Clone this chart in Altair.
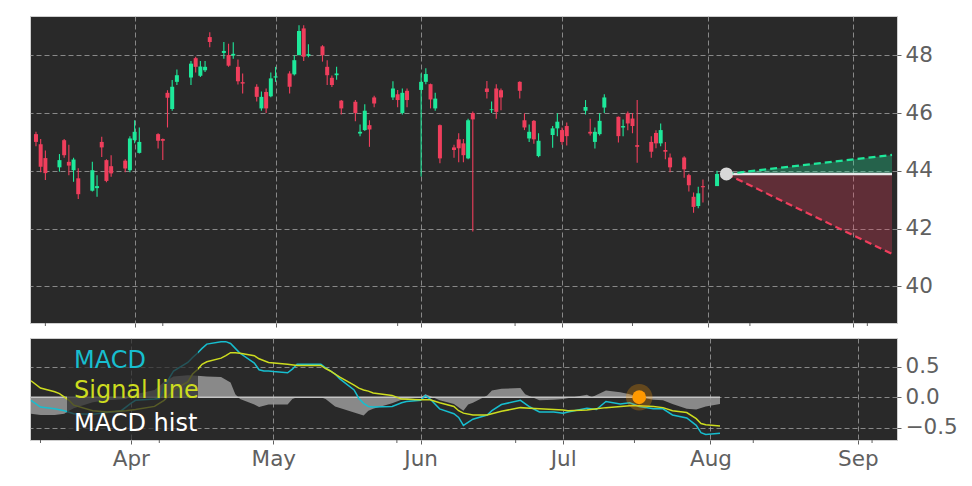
import altair as alt
import pandas as pd

GREEN = "#1ee89a"
RED = "#ef3e5c"
CYAN = "#17becf"
YELLOW = "#cddc1f"

# ---------------- candle data (2015) ----------------
dates = ["2015-03-11","2015-03-12","2015-03-13","2015-03-16","2015-03-17","2015-03-18","2015-03-19","2015-03-20",
         "2015-03-23","2015-03-24","2015-03-25","2015-03-26","2015-03-27","2015-03-30","2015-03-31","2015-04-01",
         "2015-04-02","2015-04-06","2015-04-07","2015-04-08","2015-04-09","2015-04-10","2015-04-13","2015-04-14",
         "2015-04-15","2015-04-16","2015-04-17","2015-04-20","2015-04-21","2015-04-22","2015-04-23","2015-04-24",
         "2015-04-27","2015-04-28","2015-04-29","2015-04-30","2015-05-01","2015-05-04","2015-05-05","2015-05-06",
         "2015-05-07","2015-05-08","2015-05-11","2015-05-12","2015-05-13","2015-05-14","2015-05-15","2015-05-18",
         "2015-05-19","2015-05-20","2015-05-21","2015-05-22","2015-05-26","2015-05-27","2015-05-28","2015-05-29",
         "2015-06-01","2015-06-02","2015-06-03","2015-06-04","2015-06-05","2015-06-08","2015-06-09","2015-06-10",
         "2015-06-11","2015-06-12","2015-06-15","2015-06-16","2015-06-17","2015-06-18","2015-06-22","2015-06-23",
         "2015-06-24","2015-06-25","2015-06-26","2015-06-29","2015-06-30","2015-07-01","2015-07-02","2015-07-06",
         "2015-07-07","2015-07-08","2015-07-09","2015-07-10","2015-07-13","2015-07-14","2015-07-15","2015-07-16",
         "2015-07-17","2015-07-20","2015-07-21","2015-07-22","2015-07-23","2015-07-24","2015-07-27","2015-07-28",
         "2015-07-29","2015-07-30","2015-07-31","2015-08-03"]
opens = [45.27,44.92,44.44,44.12,45.06,44.31,44.02,43.74,43.31,43.40,45.00,44.37,44.16,44.35,44.02,45.06,
         44.62,45.27,45.10,46.70,46.14,47.08,47.23,47.90,47.29,47.48,48.63,48.08,48.01,47.99,47.60,47.07,
         46.91,46.16,46.73,46.58,47.23,47.37,47.34,48.01,48.93,47.98,48.31,47.60,47.22,47.31,46.43,46.39,
         45.29,45.41,45.58,46.54,46.54,46.65,46.00,46.77,46.80,47.08,47.00,46.16,45.58,44.81,45.09,44.95,
         44.43,46.00,46.85,46.10,46.85,46.79,47.08,45.75,45.12,45.73,44.51,45.24,45.47,45.41,45.55,46.08,
         45.35,45.00,45.27,46.19,45.87,45.50,45.99,45.81,44.89,45.00,45.31,44.95,44.72,44.46,44.46,43.85,
         43.10,42.78,43.47,43.47]
highs = [45.35,45.10,44.70,44.58,45.10,44.90,44.45,44.09,44.31,43.85,45.18,44.40,44.54,44.40,45.20,45.75,
         45.50,45.30,45.12,46.79,47.14,47.51,47.80,47.95,47.80,47.80,48.80,48.46,48.40,48.45,47.85,47.37,
         47.00,46.75,46.85,47.40,47.60,47.45,48.00,49.04,49.04,48.38,48.35,47.83,47.30,47.60,46.45,46.45,
         45.60,46.30,45.75,46.60,47.10,46.80,46.85,46.85,47.37,47.55,47.02,46.70,45.60,44.90,45.30,45.10,
         45.80,46.05,47.11,46.40,47.00,46.85,47.10,45.99,45.60,45.76,45.30,45.55,45.99,45.50,45.67,46.45,
         45.80,45.50,45.99,46.65,45.88,45.78,46.05,46.00,46.45,45.20,45.40,45.64,45.00,44.60,44.50,43.90,
         43.25,43.45,43.70,44.00]
lows = [44.85,43.95,43.68,43.97,44.45,43.85,43.62,43.02,43.28,43.10,44.48,43.60,43.79,43.95,43.95,44.95,
        44.60,44.77,44.37,45.50,46.08,46.97,46.97,47.40,47.25,47.42,48.28,47.88,47.60,47.88,46.99,46.68,
        46.40,46.08,46.00,46.55,47.08,46.68,47.30,47.99,47.80,47.93,47.78,46.97,46.90,47.15,45.95,45.72,
        45.20,45.38,44.83,46.20,46.45,46.20,45.95,46.20,43.80,47.00,46.16,46.08,44.26,44.45,44.30,44.30,
        44.40,41.90,46.50,46.00,45.80,46.10,46.50,45.41,45.00,44.94,44.47,44.80,45.20,44.90,44.88,45.95,
        45.22,44.77,45.22,46.00,44.98,45.20,45.40,45.30,44.28,44.45,44.78,44.85,44.40,43.95,43.76,43.28,
        42.55,42.70,42.90,43.47]
closes = [45.00,44.14,43.92,44.37,44.54,44.18,44.39,43.19,44.02,43.47,44.81,43.65,43.91,44.08,45.12,45.35,
          45.00,45.04,45.04,46.53,46.91,47.31,47.71,47.60,47.61,47.60,48.46,48.15,47.64,48.05,47.10,47.02,
          46.56,46.56,46.16,47.20,47.27,46.91,47.83,48.84,47.95,48.04,48.00,47.31,46.97,47.37,46.16,46.00,
          45.35,46.08,45.43,46.33,46.85,46.45,46.70,46.45,47.08,47.35,46.47,46.50,44.43,44.72,44.78,44.54,
          45.75,45.78,46.73,46.13,46.04,46.54,46.77,45.50,45.35,45.09,45.04,45.47,45.70,45.00,45.20,46.21,
          45.29,45.35,45.73,46.54,45.20,45.55,45.64,45.55,44.83,44.66,44.95,45.41,44.66,44.12,44.05,43.50,
          42.75,43.22,43.43,43.89]

# ---------------- forecast ----------------
fc_dates = ["2015-08-05T00:00:00Z", "2015-09-09T06:00:00Z"]
fc_base = [43.89, 43.89]
fc_upper = [43.89, 44.55]
fc_lower = [43.89, 41.12]

# ---------------- MACD panel ----------------
macd_dates = ["03-11","03-13","03-16","03-18","03-20","03-24","03-26","03-30","04-01","04-02","04-06","04-07",
              "04-08","04-09","04-10","04-13","04-14","04-15","04-16","04-17","04-20","04-21","04-22","04-23",
              "04-24","04-27","04-28","04-29","04-30","05-01","05-04","05-05","05-06","05-07","05-08","05-11",
              "05-12","05-13","05-14","05-15","05-18","05-19","05-20","05-21","05-22","05-26","05-28","05-29",
              "06-01","06-02","06-03","06-05","06-08","06-09","06-10","06-12","06-15","06-16","06-18","06-22",
              "06-24","06-26","06-29","07-01","07-02","07-06","07-08","07-10","07-13","07-15","07-17","07-20",
              "07-22","07-24","07-27","07-29","07-30","07-31","08-03"]
macd_vals = [-0.05,-0.16,-0.19,-0.22,-0.27,-0.28,-0.26,-0.22,-0.10,-0.05,-0.03,-0.02,
             0.15,0.30,0.43,0.57,0.65,0.72,0.80,0.87,0.91,0.91,0.88,0.80,
             0.72,0.56,0.45,0.43,0.43,0.42,0.40,0.46,0.54,0.54,0.54,0.54,
             0.48,0.43,0.38,0.30,0.12,-0.02,-0.10,-0.15,-0.16,-0.15,-0.09,-0.07,
             -0.05,0.03,-0.03,-0.19,-0.27,-0.33,-0.46,-0.36,-0.29,-0.22,-0.12,-0.05,
             -0.16,-0.24,-0.24,-0.26,-0.24,-0.18,-0.20,-0.07,-0.11,-0.09,-0.15,-0.19,
             -0.19,-0.29,-0.34,-0.46,-0.58,-0.61,-0.59]
sig_dates = ["03-11","03-13","03-16","03-17","03-19","03-20","03-24","03-27","03-31","04-02","04-06","04-08",
             "04-09","04-10","04-13","04-14","04-15","04-16","04-17","04-20","04-21","04-22","04-23","04-24",
             "04-27","04-28","04-30","05-04","05-06","05-11","05-12","05-13","05-14","05-15","05-18","05-19",
             "05-20","05-21","05-22","05-26","05-28","06-01","06-03","06-05","06-08","06-09","06-10","06-12",
             "06-15","06-17","06-18","06-22","06-24","06-26","07-01","07-02","07-06","07-08","07-10","07-15",
             "07-17","07-20","07-22","07-24","07-27","07-29","07-30","07-31","08-03"]
sig_vals = [0.27,0.15,0.09,0.06,-0.05,-0.13,-0.22,-0.24,-0.22,-0.20,-0.15,-0.05,
            0.03,0.12,0.25,0.38,0.45,0.54,0.58,0.64,0.68,0.73,0.73,0.72,
            0.68,0.63,0.57,0.54,0.52,0.52,0.47,0.43,0.38,0.33,0.20,0.15,
            0.12,0.10,0.07,0.03,-0.03,-0.04,-0.04,-0.09,-0.15,-0.22,-0.26,-0.29,
            -0.29,-0.25,-0.23,-0.17,-0.18,-0.19,-0.21,-0.22,-0.21,-0.19,-0.17,-0.14,
            -0.14,-0.15,-0.17,-0.22,-0.25,-0.35,-0.43,-0.45,-0.47]
hist_dates = ["03-11","03-13","03-16","03-18","03-19","03-20","03-24","03-27","03-31","04-02","04-06","04-08",
              "04-10","04-13","04-15","04-17","04-20","04-22","04-23","04-24","04-27","04-28","04-30","05-04",
              "05-05","05-06","05-11","05-12","05-14","05-18","05-20","05-21","05-22","05-26","05-28","06-01",
              "06-02","06-03","06-05","06-08","06-10","06-11","06-12","06-15","06-16","06-18","06-22","06-23",
              "06-26","06-29","07-01","07-06","07-07","07-10","07-13","07-15","07-17","07-20","07-22","07-24",
              "07-27","07-29","07-31","08-03"]
hist_vals = [-0.27,-0.29,-0.29,-0.27,-0.22,-0.18,-0.08,-0.05,-0.03,0.05,0.12,0.25,
             0.34,0.36,0.35,0.34,0.33,0.24,0.05,-0.03,-0.12,-0.16,-0.12,-0.12,
             -0.03,0.0,0.0,-0.03,-0.15,-0.25,-0.30,-0.22,-0.19,-0.10,-0.04,0.0,
             0.05,0.02,-0.05,-0.11,-0.22,-0.12,-0.09,0.03,0.11,0.14,0.15,0.05,
             -0.05,-0.04,-0.03,0.04,0.0,0.11,0.08,0.05,0.0,-0.04,-0.05,-0.11,
             -0.19,-0.20,-0.15,-0.11]
signal_point_date = ["2015-07-17"]
signal_point_val = [0.0]

minor_tick_dates = ["2015-03-13", "2015-04-07", "2015-05-27", "2015-06-21",
                    "2015-07-16", "2015-08-10", "2015-09-04"]

legend_labels = ["MACD", "Signal line", "MACD hist"]
legend_colors = [CYAN, YELLOW, "#ffffff"]

# ---------------- tables ----------------
candles = pd.DataFrame({"date": dates, "open": opens, "high": highs, "low": lows, "close": closes})
candles["dir"] = ["up" if c >= o else "down" for o, c in zip(opens, closes)]
fc = pd.DataFrame({"date": fc_dates, "base": fc_base, "upper": fc_upper, "lower": fc_lower})
macd_df = pd.DataFrame({"date": ["2015-" + d for d in macd_dates], "v": macd_vals})
sig_df = pd.DataFrame({"date": ["2015-" + d for d in sig_dates], "v": sig_vals})
hist_df = pd.DataFrame({"date": ["2015-" + d for d in hist_dates], "v": hist_vals})
zero_df = pd.DataFrame({"date": [dates[0], dates[-1]], "v": [0.0, 0.0]})
pt_df = pd.DataFrame({"date": signal_point_date, "v": signal_point_val})
minor_df = pd.DataFrame({"date": minor_tick_dates})

def dt(m, d, h=0):
    return alt.DateTime(year=2015, month=m, date=d, hours=h, utc=True)

x_domain = [dt(3, 10, 19), dt(9, 9, 6)]
month_ticks = [dt(4, 1), dt(5, 1), dt(6, 1), dt(7, 1), dt(8, 1), dt(9, 1)]
xscale = alt.Scale(type="utc", domain=x_domain)

x_top = alt.X("date:T", scale=xscale, title=None,
              axis=alt.Axis(values=month_ticks, labels=False, ticks=True, grid=True, domain=False))
x_bot = alt.X("date:T", scale=xscale, title=None,
              axis=alt.Axis(values=month_ticks, format="%b", grid=True, domain=False))

W = 867
H_TOP = 307
H_BOT = 102

# ---------------- top panel ----------------
yscale_top = alt.Scale(domain=[38.73, 49.36], nice=False, zero=False)
ytop_axis = alt.Axis(orient="right", values=[40, 42, 44, 46, 48], grid=True, domain=False)
color_dir = alt.Color("dir:N", scale=alt.Scale(domain=["up", "down"], range=[GREEN, RED]), legend=None)

fbase = alt.Chart(fc)
area_up = fbase.mark_area(color=GREEN, opacity=0.3).encode(
    x=x_top, y=alt.Y("base:Q", scale=yscale_top, axis=ytop_axis, title=None), y2="upper:Q")
area_dn = fbase.mark_area(color=RED, opacity=0.28).encode(
    x=x_top, y=alt.Y("lower:Q", scale=yscale_top), y2="base:Q")
line_base = fbase.mark_line(color="#e8e8e8", strokeWidth=2.5).encode(
    x=x_top, y=alt.Y("base:Q", scale=yscale_top))
line_up = fbase.mark_line(color=GREEN, strokeWidth=2.2, strokeDash=[7, 4]).encode(
    x=x_top, y=alt.Y("upper:Q", scale=yscale_top))
line_dn = fbase.mark_line(color=RED, strokeWidth=2.2, strokeDash=[7, 4]).encode(
    x=x_top, y=alt.Y("lower:Q", scale=yscale_top))
dot = alt.Chart(fc.iloc[:1]).mark_point(filled=True, color="#d8d8d8", size=170, opacity=1).encode(
    x=x_top, y=alt.Y("base:Q", scale=yscale_top))

cbase = alt.Chart(candles)
wicks = cbase.mark_rule(strokeWidth=1.1).encode(
    x=x_top, y=alt.Y("low:Q", scale=yscale_top), y2="high:Q", color=color_dir)
bodies = cbase.mark_bar(size=4).encode(
    x=x_top, y=alt.Y("open:Q", scale=yscale_top), y2="close:Q", color=color_dir)

minor_top = alt.Chart(minor_df).mark_rule(color="#606060", strokeWidth=1).encode(
    x=x_top, y=alt.value(H_TOP), y2=alt.value(H_TOP + 3))

top = alt.layer(area_up, area_dn, wicks, bodies, line_base, line_up, line_dn, dot, minor_top).properties(
    width=W, height=H_TOP)

# ---------------- bottom panel ----------------
yscale_bot = alt.Scale(domain=[-0.70, 0.97], nice=False, zero=False)
ybot_axis = alt.Axis(orient="right", values=[-0.5, 0.0, 0.5], grid=True, domain=False,
                     labelExpr="replace(format(datum.value, '.1f'), '-', '\u2212')")

hist = alt.Chart(hist_df).mark_area(color="#9a9a9a", opacity=0.85).encode(
    x=x_bot, y=alt.Y("v:Q", scale=yscale_bot, axis=ybot_axis, title=None), y2=alt.datum(0))
zero = alt.Chart(zero_df).mark_line(color="#c4c4c4", strokeWidth=1.6).encode(
    x=x_bot, y=alt.Y("v:Q", scale=yscale_bot))
macd_line = alt.Chart(macd_df).mark_line(color=CYAN, strokeWidth=1.5).encode(
    x=x_bot, y=alt.Y("v:Q", scale=yscale_bot))
sig_line = alt.Chart(sig_df).mark_line(color=YELLOW, strokeWidth=1.5).encode(
    x=x_bot, y=alt.Y("v:Q", scale=yscale_bot))

legend_box = alt.Chart(pd.DataFrame({"k": [0]})).mark_rect(
    color="#292929", opacity=0.72, cornerRadius=4).encode(
    x=alt.value(37), x2=alt.value(168), y=alt.value(1), y2=alt.value(101))

legend_texts = []
for lbl, col, py in zip(legend_labels, legend_colors, [23, 53, 86]):
    legend_texts.append(
        alt.Chart(pd.DataFrame({"t": [lbl]})).mark_text(
            align="left", baseline="middle", fontSize=24, font="DejaVu Sans", color=col).encode(
            x=alt.value(44), y=alt.value(py), text="t:N"))

halo = alt.Chart(pt_df).mark_point(filled=True, color="#ff9900", size=700, opacity=0.28).encode(
    x=x_bot, y=alt.Y("v:Q", scale=yscale_bot))
pt = alt.Chart(pt_df).mark_point(filled=True, color="#ff9900", size=190, opacity=1).encode(
    x=x_bot, y=alt.Y("v:Q", scale=yscale_bot))

minor_bot = alt.Chart(minor_df).mark_rule(color="#606060", strokeWidth=1).encode(
    x=x_bot, y=alt.value(H_BOT), y2=alt.value(H_BOT + 3))

bottom = alt.layer(hist, zero, macd_line, sig_line, legend_box, *legend_texts, halo, pt, minor_bot).properties(
    width=W, height=H_BOT)

chart = alt.vconcat(top, bottom, spacing=9).resolve_scale(
    x="independent", y="independent", color="independent"
).properties(
    padding={"left": 19, "top": 7, "right": 0, "bottom": 0},
    background="white",
).configure_view(
    fill="#292929", stroke="#cfcfcf", strokeWidth=1
).configure_axis(
    labelFont="DejaVu Sans", labelFontSize=21.5, labelColor="#606060",
    tickColor="#606060", tickSize=4, labelPadding=4,
    gridColor="#a8a8a8", gridDash=[5, 3], gridOpacity=0.75, gridWidth=1
)

chart.save("out.html", embed_options={"renderer": "svg", "actions": False})
